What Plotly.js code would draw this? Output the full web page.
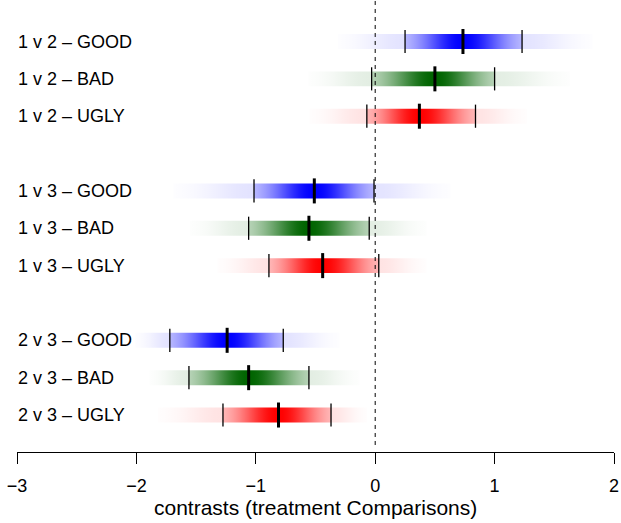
<!DOCTYPE html>
<html>
<head>
<meta charset="utf-8">
<script src="https://cdn.plot.ly/plotly-3.0.1.min.js"></script>
<style>html,body{margin:0;padding:0;background:#fff;}#chart{width:621px;height:523px;}</style>
</head>
<body>
<div id="chart"></div>
<script>
// ---- data ----
const labels = ['1 v 2 \u2013 GOOD','1 v 2 \u2013 BAD','1 v 2 \u2013 UGLY',
                '1 v 3 \u2013 GOOD','1 v 3 \u2013 BAD','1 v 3 \u2013 UGLY',
                '2 v 3 \u2013 GOOD','2 v 3 \u2013 BAD','2 v 3 \u2013 UGLY'];
const rowPos = [1, 2, 3, 5, 6, 7, 9, 10, 11];
const estimate   = [0.735, 0.50, 0.37, -0.51, -0.555, -0.44, -1.24, -1.06, -0.81];
const ciLower    = [0.25, -0.03, -0.07, -1.015, -1.06, -0.89, -1.72, -1.56, -1.275];
const ciUpper    = [1.23, 1.00, 0.84, -0.01, -0.05, 0.03, -0.77, -0.555, -0.37];
const outerLower = [-0.31, -0.56, -0.55, -1.69, -1.55, -1.32, -2.01, -1.89, -1.82];
const outerUpper = [1.82, 1.63, 1.27, 0.63, 0.43, 0.43, -0.30, -0.13, -0.07];
const rowColor = ['0,0,255','0,100,0','255,0,0','0,0,255','0,100,0','255,0,0','0,0,255','0,100,0','255,0,0'];
const xTicks = [-3, -2, -1, 0, 1, 2];
const xTitle = 'contrasts (treatment Comparisons)';

// ---- style helpers ----
const barHalf = 0.2, ciHalf = 0.31, estHalf = 0.335;
function innerAlpha(u){ return 0.17 + 0.83*Math.exp(-2.0*u*u); }
function outerAlpha(v){ return 0.11*Math.exp(-2.6*v*v); }

function rect(x0, x1, y){ return {x:[x0,x1,x1,x0,x0], y:[y-barHalf,y-barHalf,y+barHalf,y+barHalf,y-barHalf]}; }

const traces = [];
for (let i = 0; i < labels.length; i++) {
  const c = rowColor[i], y = rowPos[i];
  const lo = ciLower[i], hi = ciUpper[i], est = estimate[i];
  const olo = outerLower[i], ohi = outerUpper[i];
  let ps = [];
  for (let k = 0; k <= 40; k++) ps.push(k/40);
  ps.push((est-lo)/(hi-lo));
  ps = Array.from(new Set(ps.map(p => Math.round(p*10000)/10000))).sort((a,b)=>a-b);
  const innerScale = ps.map(p => {
    const x = lo + p*(hi-lo);
    const u = x < est ? (est-x)/(est-lo) : (x-est)/(hi-est);
    return [p, 'rgba(' + c + ',' + innerAlpha(Math.min(1,u)).toFixed(3) + ')'];
  });
  const r1 = rect(lo, hi, y);
  traces.push({type:'scatter', mode:'none', x:r1.x, y:r1.y, fill:'toself', hoverinfo:'skip',
    fillgradient:{type:'horizontal', start:lo, stop:hi, colorscale:innerScale}});
  const leftScale = [], rightScale = [];
  for (let k = 0; k <= 20; k++) {
    const p = k/20;
    leftScale.push([p, 'rgba(' + c + ',' + outerAlpha(1-p).toFixed(4) + ')']);
    rightScale.push([p, 'rgba(' + c + ',' + outerAlpha(p).toFixed(4) + ')']);
  }
  const r2 = rect(olo, lo, y);
  traces.push({type:'scatter', mode:'none', x:r2.x, y:r2.y, fill:'toself', hoverinfo:'skip',
    fillgradient:{type:'horizontal', start:olo, stop:lo, colorscale:leftScale}});
  const r3 = rect(hi, ohi, y);
  traces.push({type:'scatter', mode:'none', x:r3.x, y:r3.y, fill:'toself', hoverinfo:'skip',
    fillgradient:{type:'horizontal', start:hi, stop:ohi, colorscale:rightScale}});
}
const cx = [], cy = [], ex = [], ey = [];
for (let i = 0; i < labels.length; i++) {
  const y = rowPos[i];
  cx.push(ciLower[i], ciLower[i], null, ciUpper[i], ciUpper[i], null);
  cy.push(y-ciHalf, y+ciHalf, null, y-ciHalf, y+ciHalf, null);
  ex.push(estimate[i], estimate[i], null);
  ey.push(y-estHalf, y+estHalf, null);
}
traces.push({type:'scatter', mode:'lines', x:cx, y:cy, line:{color:'#000', width:1.3}, hoverinfo:'skip'});
traces.push({type:'scatter', mode:'lines', x:ex, y:ey, line:{color:'#000', width:3}, hoverinfo:'skip'});

const fontFam = 'Liberation Sans, Arial, sans-serif';
const annotations = labels.map((t, i) => ({
  text: t, x: -3, y: rowPos[i], xref: 'x', yref: 'y', xanchor: 'left', yanchor: 'middle',
  showarrow: false, font: {family: fontFam, size: 18, color: '#000'}, borderpad: 0
}));
annotations.push({text: xTitle, xref: 'paper', yref: 'paper', x: 0.5, y: -0.1217,
  xanchor: 'center', yanchor: 'middle', showarrow: false, borderpad: 0,
  font: {family: fontFam, size: 21, color: '#000'}});

const layout = {
  width: 621, height: 523,
  margin: {l: 17, r: 7, t: 0, b: 71},
  paper_bgcolor: '#fff', plot_bgcolor: '#fff',
  showlegend: false,
  font: {family: fontFam, size: 18, color: '#000'},
  xaxis: {
    range: [-3, 2], tickvals: xTicks, ticktext: xTicks.map(v => v < 0 ? '\u2212' + Math.abs(v) : String(v)),
    showgrid: false, zeroline: false, showline: true, linecolor: '#000', linewidth: 1,
    ticks: 'outside', ticklen: 11, tickwidth: 1, tickcolor: '#000',
    tickfont: {size: 18, color: '#000'}, ticklabelstandoff: 6,
    fixedrange: true
  },
  yaxis: {range: [11.99, -0.111], visible: false, fixedrange: true},
  shapes: [{type: 'line', xref: 'x', yref: 'paper', x0: 0, x1: 0, y0: 0.0155, y1: 1,
            line: {color: '#000', width: 1, dash: '4px,4px'}, layer: 'above'}],
  annotations: annotations
};
Plotly.newPlot('chart', traces, layout, {staticPlot: true, displayModeBar: false});
</script>
</body>
</html>
